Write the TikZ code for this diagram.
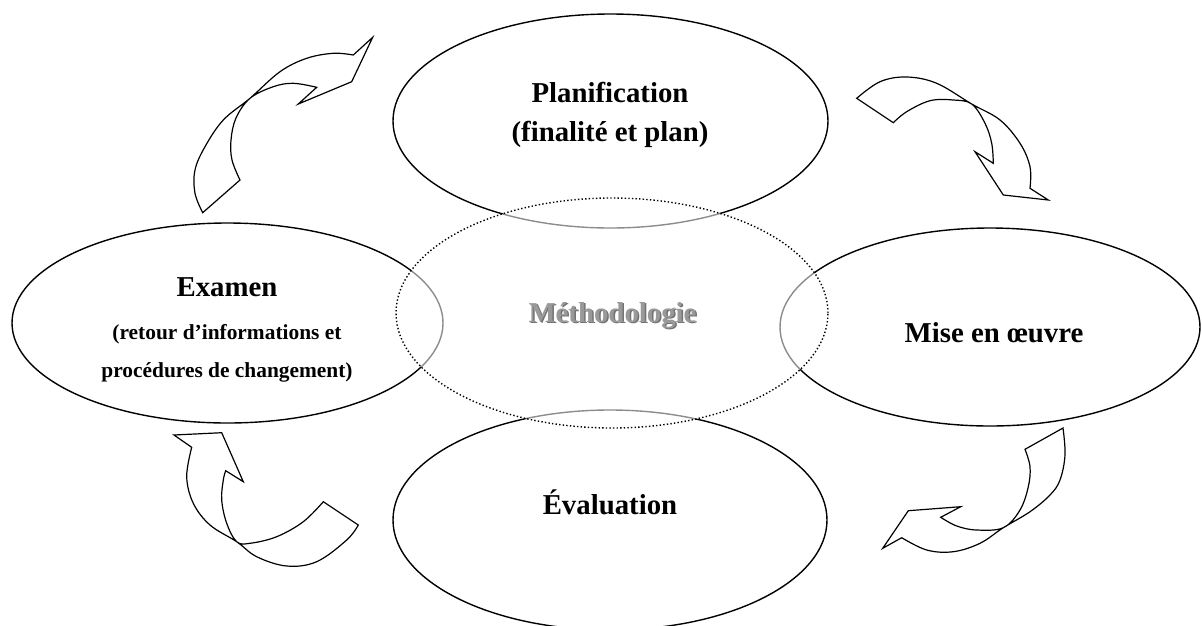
\documentclass[tikz,border=0pt]{standalone}
\usepackage{fontspec}
\setmainfont{Liberation Serif}
\usetikzlibrary{shapes.geometric}
\begin{document}
\begin{tikzpicture}[x=1pt,y=-1pt,
  ell/.style={draw, ellipse, line width=1.4pt, inner sep=0pt},
  big/.style={font=\fontsize{28.8}{34}\selectfont\bfseries, anchor=base},
  small/.style={font=\fontsize{21.4}{26}\selectfont\bfseries, anchor=base},
  carrow/.style={draw, line width=1.2pt, line join=miter, fill=white},
  methshade/.style={fill=white, fill opacity=0.55, draw=black, line width=1.4pt, dash pattern=on 1.4pt off 2.2pt}]
\useasboundingbox (0,0) rectangle (1202,625);
% ellipses
\node[ell, minimum width=435pt, minimum height=214pt] (plan) at (610.5,121) {};
\node[ell, minimum width=431pt, minimum height=200pt] (exam) at (227.5,323) {};
\node[ell, minimum width=420pt, minimum height=198pt] (mise) at (990,327) {};
\node[ell, minimum width=434pt, minimum height=220pt] (eval) at (610,520) {};
\node[ell, methshade, minimum width=432pt, minimum height=230pt] (meth) at (612,313) {};
% texts
\node[big] (tplan1) at (610,102) {Planification};
\node[big] (tplan2) at (610,141) {(finalité et plan)};
\node[big] (texam1) at (227,296) {Examen};
\node[small] (texam2) at (227,339) {(retour d’informations et};
\node[small] (texam3) at (227,377) {procédures de changement)};
\node[big] (tmise) at (994,342) {Mise en œuvre};
\node[big] (teval) at (610,514) {Évaluation};
\node[big, text=black!55] (tmeth0) at (614,323.5) {Méthodologie};
\node[big, text=black!40] (tmeth) at (612.5,322) {Méthodologie};
% curved arrows
\draw[carrow] (202.7,212.7) -- (240,180)
  -- plot[smooth, tension=0.6] coordinates {(240,180) (232,160) (231,140) (236,118) (250,98.3) (273.3,86.7) (293.3,83.3) (316.7,87.3)}
  -- (298.3,104) -- (351.7,81.7) -- (372.7,37.3) -- (353.3,55)
  -- plot[smooth, tension=0.6] coordinates {(353.3,55) (333.3,53.3) (306.7,58.3) (280,71.7) (250,98.3) (223.3,120) (205,146.7) (195,170) (195,193.3) (202.7,212.7)}
  -- cycle;
\draw[carrow] (856.7,98.3) -- (893.3,122.7)
  -- plot[smooth, tension=0.6] coordinates {(893.3,122.7) (906.7,111.7) (930,100.7) (953.3,100) (971.7,104) (985,123.3) (991.7,143.3) (993.3,163.3)}
  -- (975,151.7) -- (1003.3,195) -- (1048.3,200) -- (1030,188.3)
  -- plot[smooth, tension=0.6] coordinates {(1030,188.3) (1030,166.7) (1020,143.3) (1000,120) (971.7,104) (936.7,83.3) (906.7,77) (880,81.7) (856.7,98.3)}
  -- cycle;
\draw[carrow] (1063,428) -- (1025,449.3)
  -- plot[smooth, tension=0.6] coordinates {(1025,449.3) (1030,466.7) (1028.3,486.7) (1020,510) (1003.3,527.7) (976.7,530) (956.7,526) (940.7,517.3)}
  -- (960.7,506.7) -- (908.3,510.7) -- (882.7,548.3) -- (901.7,537.7)
  -- plot[smooth, tension=0.6] coordinates {(901.7,537.7) (926.7,550) (953.3,551.7) (980,543.3) (1003.3,527.7) (1030,511.7) (1050,495) (1060,480) (1065,455) (1063,428)}
  -- cycle;
\draw[carrow] (323.3,501.7) -- (358.3,525)
  -- plot[smooth, tension=0.6] coordinates {(358.3,525) (346.7,540) (316.7,561.7) (286.7,566) (256.7,556.7) (236.7,541.7) (210,525) (193.3,503.3) (186.7,476.7) (191.7,447.3)}
  -- (174,435) -- (221.7,432.7) -- (243.3,481.7) -- (225.7,470.7)
  -- plot[smooth, tension=0.6] coordinates {(225.7,470.7) (223.3,480) (221.7,500) (226.7,523.3) (236.7,541.7) (250,543.3) (276.7,536.7) (303.3,521.7) (323.3,501.7)}
  -- cycle;
\end{tikzpicture}
\end{document}
